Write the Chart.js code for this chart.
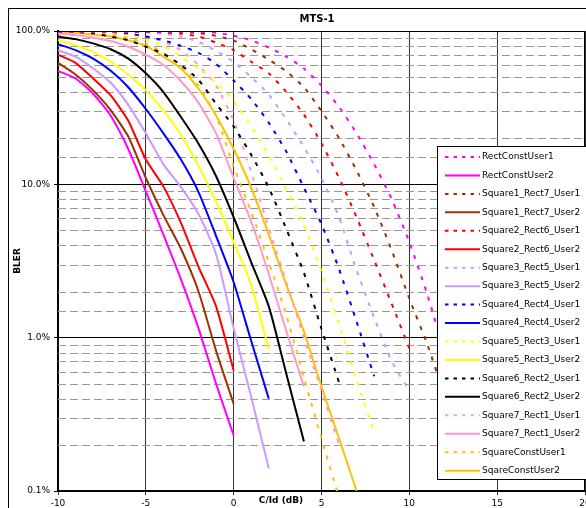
<!DOCTYPE html>
<html>
<head>
<meta charset="utf-8">
<script src="https://cdn.jsdelivr.net/npm/chart.js@4.4.1/dist/chart.umd.min.js"></script>
<style>
  html, body { margin: 0; padding: 0; background: #fff; }
  #wrap { width: 586px; height: 508px; }
</style>
</head>
<body>
<div id="wrap"><canvas id="myChart" width="586" height="508"></canvas></div>
<script>
// C/Id in dB, every series starts at -10 and runs as far as its values go
const xValues = [-10, -9, -8, -7, -6, -5, -4, -3, -2, -1, 0, 1, 2, 3, 4, 5, 6, 7, 8, 9, 10, 11, 12];

const seriesNames = [
    'RectConstUser1', 'RectConstUser2',
    'Square1_Rect7_User1', 'Square1_Rect7_User2',
    'Square2_Rect6_User1', 'Square2_Rect6_User2',
    'Square3_Rect5_User1', 'Square3_Rect5_User2',
    'Square4_Rect4_User1', 'Square4_Rect4_User2',
    'Square5_Rect3_User1', 'Square5_Rect3_User2',
    'Square6_Rect2_User1', 'Square6_Rect2_User2',
    'Square7_Rect1_User1', 'Square7_Rect1_User2',
    'SquareConstUser1', 'SqareConstUser2'
];
const pairColors = ['#FF00FF', '#993300', '#FF0000', '#CC99FF', '#0000FF', '#FFFF00', '#000000', '#FF99CC', '#FFC000'];

// BLER in %
const rectConstUser1 = [99, 99, 99, 99, 99, 99, 99, 99, 98.8, 97.5, 93, 87, 78, 68, 57, 44, 32, 21.5, 13.5, 8.0, 4.2, 1.95, 0.8];
const rectConstUser2 = [55, 49, 39, 28, 17, 9.0, 4.7, 2.4, 1.15, 0.5, 0.23];
const sq1User1 = [99, 99, 99, 99, 99, 99, 98.8, 98.5, 97, 93, 86.5, 76, 65, 54.5, 43, 30, 20, 12.3, 7.1, 3.7, 1.8, 0.92, 0.42];
const sq1User2 = [62, 52, 41, 30.5, 20.5, 11, 6.3, 3.8, 2.0, 0.82, 0.37];
const sq2User1 = [99, 99, 99, 99, 99, 98.8, 98, 96, 92, 84, 75, 63, 53, 40, 28.5, 18.5, 11, 6.1, 3.2, 1.66, 0.85];
const sq2User2 = [70, 62, 49, 38, 26, 14.5, 9.7, 5.6, 2.9, 1.6, 0.61];
const sq3User1 = [99, 99, 99, 99, 98.8, 98, 96, 92, 85, 74, 63, 50, 38.5, 26.5, 17.5, 11, 6.1, 2.75, 1.35, 0.7, 0.45];
const sq3User2 = [75, 68, 57, 46, 33, 21.5, 13.5, 9.6, 6.4, 3.5, 1.15, 0.41, 0.14];
const sq4User1 = [99, 99, 99, 98.5, 96.5, 92, 87, 80, 72, 61, 47.5, 36, 25.2, 16.3, 9.5, 5.5, 2.8, 1.27, 0.56];
const sq4User2 = [82, 75, 66, 55, 43, 31, 21.5, 14.5, 8.9, 4.6, 2.3, 0.95, 0.4];
const sq5User1 = [99, 99, 98.8, 97.5, 94, 88, 80, 68, 57, 46, 35, 24, 15.5, 9.3, 5.5, 2.7, 1.23, 0.53, 0.24];
const sq5User2 = [87, 81, 73, 63, 52, 41, 30.5, 21, 13.2, 7.7, 4.2, 2.2, 0.84];
const sq6User1 = [99, 98.5, 96.5, 92, 87, 79, 71, 60, 48, 33.5, 23.8, 15.6, 9.5, 5.1, 2.65, 1.14, 0.51];
const sq6User2 = [92, 88.5, 83, 76, 66, 53, 40, 27.5, 18.4, 11.3, 6.1, 3.1, 1.6, 0.58, 0.21];
const sq7User1 = [99, 99, 98.8, 98, 96, 92, 85, 75, 60, 44, 26, 12, 5.2, 2.3, 1.0, 0.45, 0.2];
const sq7User2 = [96, 94, 90.5, 86, 79, 70, 60, 47, 34, 21.5, 11, 5.7, 2.6, 1.1, 0.48];
const squareConstUser1 = [99, 98.5, 97, 95, 90, 83, 72, 59, 44, 28, 13, 6.6, 3.1, 1.4, 0.55, 0.22, 0.09];
const squareConstUser2 = [99, 97.5, 95, 92, 87, 80, 68, 57, 42, 28, 17, 9.5, 4.7, 2.2, 1.1, 0.48, 0.22, 0.1];

const seriesValues = [
    rectConstUser1, rectConstUser2, sq1User1, sq1User2, sq2User1, sq2User2,
    sq3User1, sq3User2, sq4User1, sq4User2, sq5User1, sq5User2,
    sq6User1, sq6User2, sq7User1, sq7User2, squareConstUser1, squareConstUser2
];

const FONT = '"DejaVu Sans", Verdana, sans-serif';
const isDecade = v => Math.abs(Math.log10(v) - Math.round(Math.log10(v))) < 1e-6;

const datasets = seriesValues.map((vals, i) => ({
    label: seriesNames[i],
    data: vals.map((v, j) => ({ x: xValues[j], y: v })),
    borderColor: pairColors[Math.floor(i / 2)],
    backgroundColor: pairColors[Math.floor(i / 2)],
    borderWidth: 2,
    borderDash: i % 2 === 0 ? [4, 7] : [],
    pointRadius: 0,
    tension: 0.2,
    fill: false
}));

//frame, dashed minor grid, legend box and titles the Excel way
const excelLook = {
    id: 'excelLook',
    beforeDraw(chart) {
        const c = chart.ctx;
        c.save();
        c.fillStyle = '#fff';
        c.fillRect(0, 0, chart.width, chart.height);
        c.strokeStyle = '#000';
        c.lineWidth = 1;
        c.strokeRect(8.5, 8.5, chart.width + 20, chart.height + 20);
        c.restore();
    },
    beforeDatasetsDraw(chart) {
        const c = chart.ctx;
        const a = chart.chartArea;
        const y = chart.scales.y;
        c.save();
        c.strokeStyle = '#999';
        c.lineWidth = 1;
        c.setLineDash([8, 4]);
        y.ticks.forEach(t => {
            if (isDecade(t.value)) return;
            const py = Math.round(y.getPixelForValue(t.value)) + 0.5;
            c.beginPath();
            c.moveTo(a.left, py);
            c.lineTo(a.right, py);
            c.stroke();
        });
        c.restore();
    },
    afterDatasetsDraw(chart) {
        const c = chart.ctx;
        const a = chart.chartArea;
        c.save();
        c.strokeStyle = '#000';
        c.lineWidth = 1;
        c.beginPath();
        c.moveTo(a.left, a.top + 0.5);
        c.lineTo(a.right, a.top + 0.5);
        c.moveTo(a.right - 0.5, a.top);
        c.lineTo(a.right - 0.5, a.bottom);
        c.stroke();
        c.restore();
    },
    afterDraw(chart) {
        const c = chart.ctx;
        c.save();
        // legend
        const lx = 437, ly = 146, lw = 170, lh = 333;
        c.fillStyle = '#fff';
        c.fillRect(lx, ly, lw, lh);
        c.strokeStyle = '#000';
        c.lineWidth = 1;
        c.strokeRect(lx + 0.5, ly + 0.5, lw, lh);
        chart.data.datasets.forEach((ds, i) => {
            const yy = 157 + i * 18.45;
            c.strokeStyle = ds.borderColor;
            c.lineWidth = 2;
            c.setLineDash(ds.borderDash.length ? [3.5, 5] : []);
            c.beginPath();
            c.moveTo(445, yy);
            c.lineTo(480, yy);
            c.stroke();
            c.setLineDash([]);
            c.fillStyle = '#000';
            c.font = '9px ' + FONT;
            c.textAlign = 'left';
            c.textBaseline = 'middle';
            c.fillText(ds.label, 482, yy);
        });
        // titles
        c.fillStyle = '#000';
        c.textAlign = 'center';
        c.textBaseline = 'middle';
        c.font = 'bold 10px ' + FONT;
        c.fillText('MTS-1', 317, 19);
        c.font = 'bold 9px ' + FONT;
        c.fillText('C/Id (dB)', 281, 501);
        c.translate(17.5, 261);
        c.rotate(-Math.PI / 2);
        c.fillText('BLER', 0, 0);
        c.restore();
    }
};

const ctx = document.getElementById('myChart').getContext('2d');
const myChart = new Chart(ctx, {
    type: 'line',
    data: { datasets: datasets },
    options: {
        responsive: false,
        animation: false,
        devicePixelRatio: 1,
        layout: { padding: { top: 31, right: 1, left: 0, bottom: 0 } },
        plugins: {
            legend: { display: false },
            title: { display: false },
            tooltip: { enabled: false }
        },
        scales: {
            x: {
                type: 'linear',
                min: -10,
                max: 20,
                ticks: {
                    stepSize: 5,
                    autoSkip: false,
                    maxRotation: 0,
                    padding: 3,
                    color: '#000',
                    font: { family: FONT, size: 9 }
                },
                grid: { color: '#333', lineWidth: 1, tickLength: 4 },
                border: { color: '#000', width: 2 },
                afterFit: s => {
                    s.height = 17;
                    s.paddingLeft = 0;
                    s.paddingRight = 0;
                }
            },
            y: {
                type: 'logarithmic',
                min: 0.1,
                max: 100,
                ticks: {
                    autoSkip: false,
                    padding: 4,
                    color: '#000',
                    font: { family: FONT, size: 9 },
                    callback: v => isDecade(v) ? v.toFixed(1) + '%' : ''
                },
                grid: {
                    color: c => c.tick && isDecade(c.tick.value) ? '#000' : 'rgba(0,0,0,0)',
                    lineWidth: 1,
                    tickLength: 4
                },
                border: { color: '#000', width: 2 },
                afterFit: s => {
                    s.width = 58;
                    s.paddingTop = 0;
                    s.paddingBottom = 0;
                }
            }
        }
    },
    plugins: [excelLook]
});
</script>
</body>
</html>
